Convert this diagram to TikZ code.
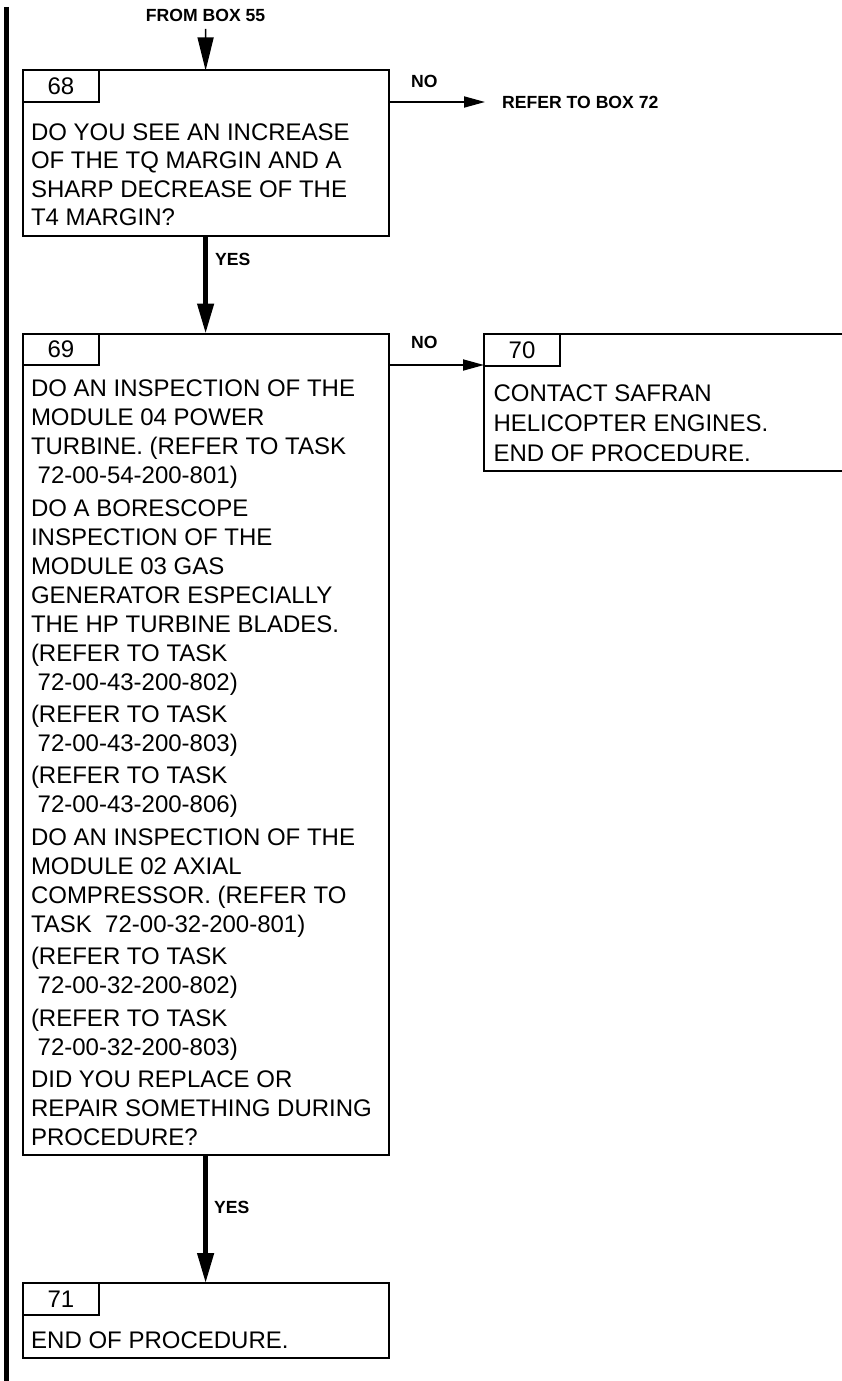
\documentclass[tikz,border=0pt]{standalone}
\usepackage{fontspec}
\setmainfont{Liberation Sans}
\usetikzlibrary{arrows.meta}
\begin{document}
\begin{tikzpicture}[x=1pt,y=-1pt,
  box/.style={draw, line width=2pt, rectangle, inner sep=0pt, outer sep=0pt, anchor=north west},
  tab/.style={draw, line width=2pt, rectangle, inner sep=0pt, outer sep=0pt, anchor=north west,
              minimum width=76.5pt, minimum height=31.5pt, font=\fontsize{24}{28}\selectfont},
  body/.style={anchor=base west, inner sep=0pt, outer sep=0pt},
  lbl/.style={font=\fontsize{17.6}{20}\selectfont\bfseries, inner sep=0pt, anchor=base west},
  thickarrow/.style={line width=4.5pt, -{Triangle[length=30pt,width=16pt]}},
  toparrow/.style={line width=1.4pt, -{Triangle[length=33pt,width=16pt]}},
  thinarrow/.style={line width=1.8pt, -{Triangle[length=21pt,width=11pt]}},
]
\useasboundingbox (0,0) rectangle (842,1381);
\fill[white] (0,0) rectangle (842,1381);

% left change bar
\draw[line width=5pt] (6.5,7) -- (6.5,1385);

% boxes
\node[box, minimum width=365.8pt, minimum height=165pt] (b68) at (22.7,70.5) {};
\node[tab] (t68) at (b68.north west) {68};
\node[box, minimum width=365.8pt, minimum height=821.5pt] (b69) at (22.7,333.5) {};
\node[tab] (t69) at (b69.north west) {69};
\node[box, minimum width=365pt, minimum height=136.7pt] (b70) at (484,334) {};
\node[tab, minimum width=76pt] (t70) at (b70.north west) {70};
\node[box, minimum width=365.8pt, minimum height=75pt] (b71) at (22.7,1283) {};
\node[tab] (t71) at (b71.north west) {71};

% body texts
\node[body] (x68) at (31,140) {\parbox[t]{360pt}{\fontsize{24}{28.6}\selectfont\raggedright
DO YOU SEE AN INCREASE\\
OF THE TQ MARGIN AND A\\
SHARP DECREASE OF THE\\
T4 MARGIN?}};

\node[body] (x69) at (31,396.7) {\parbox[t]{360pt}{\fontsize{24}{29}\selectfont\raggedright
DO AN INSPECTION OF THE\\
MODULE 04 POWER\\
TURBINE. (REFER TO TASK\\
\hspace*{0.278em}72-00-54-200-801)\\[3.4pt]
DO A BORESCOPE\\
INSPECTION OF THE\\
MODULE 03 GAS\\
GENERATOR ESPECIALLY\\
THE HP TURBINE BLADES.\\
(REFER TO TASK\\
\hspace*{0.278em}72-00-43-200-802)\\[3.4pt]
(REFER TO TASK\\
\hspace*{0.278em}72-00-43-200-803)\\[3.4pt]
(REFER TO TASK\\
\hspace*{0.278em}72-00-43-200-806)\\[3.4pt]
DO AN INSPECTION OF THE\\
MODULE 02 AXIAL\\
COMPRESSOR. (REFER TO\\
TASK\ \ 72-00-32-200-801)\\[3.4pt]
(REFER TO TASK\\
\hspace*{0.278em}72-00-32-200-802)\\[3.4pt]
(REFER TO TASK\\
\hspace*{0.278em}72-00-32-200-803)\\[3.4pt]
DID YOU REPLACE OR\\
REPAIR SOMETHING DURING\\
PROCEDURE?}};

\node[body] (x70) at (493.5,401.7) {\parbox[t]{340pt}{\fontsize{24}{30}\selectfont\raggedright
CONTACT SAFRAN\\
HELICOPTER ENGINES.\\
END OF PROCEDURE.}};

\node[body] (x71) at (31.2,1348.3) {\fontsize{24}{28}\selectfont END OF PROCEDURE.};

% labels
\node[lbl, anchor=base] (from) at (205.6,21.6) {FROM BOX 55};
\coordinate (topstart) at (205.6,29);
\node[lbl] (no68) at (411,87) {NO};
\node[lbl] (ref72) at (502,108) {REFER TO BOX 72};
\coordinate (c72) at (485,102);
\node[lbl] (yes68) at (215,265) {YES};
\node[lbl] (no69) at (411,348) {NO};
\node[lbl] (yes69) at (214,1213) {YES};

% connectors
\draw[toparrow] (topstart) -- (b68.north);
\draw[thinarrow] (t68.south -| b68.east) -- (c72);
\draw[thickarrow] (b68.south) -- (b69.north);
\draw[thinarrow] (t69.south -| b69.east) -- (t69.south -| b70.west);
\draw[thickarrow] (b69.south) -- (b71.north);
\end{tikzpicture}
\end{document}
